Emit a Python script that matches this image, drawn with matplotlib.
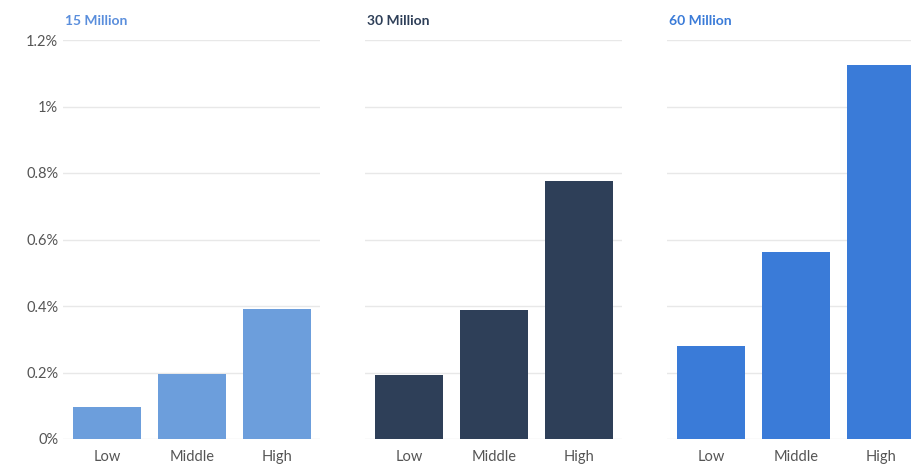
import matplotlib.pyplot as plt
from matplotlib.ticker import FuncFormatter

plt.rcParams['font.family'] = ['Lato', 'DejaVu Sans']

# Data
titles = ['15 Million', '30 Million', '60 Million']
categories = ['Low', 'Middle', 'High']
values_15m = [0.097, 0.196, 0.392]
values_30m = [0.193, 0.388, 0.776]
values_60m = [0.280, 0.562, 1.125]
yticks = [0, 0.2, 0.4, 0.6, 0.8, 1.0, 1.2]

bar_colors = ['#6c9edc', '#2e3f58', '#3a7bd8']
title_colors = ['#5a8edc', '#2e3f58', '#3a7bd8']
series = [values_15m, values_30m, values_60m]

fig = plt.figure(figsize=(9.11, 4.68), dpi=100)
lefts = [63 / 911, 365 / 911, 667 / 911]

def pct(v, pos):
    if v == 0:
        return '0%'
    return f"{v:g}%"

for i, (vals, left) in enumerate(zip(series, lefts)):
    ax = fig.add_axes([left, 1 - 439 / 468, 257 / 911, 399 / 468])
    ax.bar(range(len(categories)), vals, width=0.8, color=bar_colors[i], zorder=3)
    ax.set_xlim(-0.518, 2.506)
    ax.set_ylim(0, 1.2)
    ax.set_yticks(yticks)
    ax.yaxis.set_major_formatter(FuncFormatter(pct))
    ax.set_xticks(range(len(categories)))
    ax.set_xticklabels(categories)
    ax.grid(axis='y', color='#e8e8e8', linewidth=1, zorder=0)
    ax.set_axisbelow(True)
    for s in ax.spines.values():
        s.set_visible(False)
    ax.tick_params(length=0, labelsize=10.5, colors='#555555')
    ax.tick_params(axis='x', pad=8)
    if i > 0:
        ax.tick_params(axis='y', labelleft=False)
    ax.text(0.008, 1.048, titles[i], transform=ax.transAxes, fontsize=10,
            fontweight='bold', color=title_colors[i], va='center', ha='left')

fig.savefig('out.png', dpi=100)
